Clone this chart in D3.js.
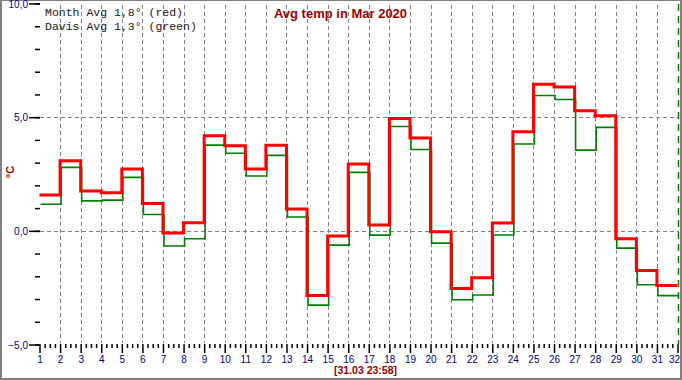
<!DOCTYPE html>
<html><head><meta charset="utf-8">
<script src="https://cdn.jsdelivr.net/npm/d3@7"></script>
<style>
html,body{margin:0;padding:0;background:#fff;}
svg{display:block;}
</style></head>
<body>
<svg id="chart" width="682" height="380"></svg>
<script>
const days = [1,2,3,4,5,6,7,8,9,10,11,12,13,14,15,16,17,18,19,20,21,22,23,24,25,26,27,28,29,30,31];
const monthAvg = [1.58,3.08,1.75,1.68,2.72,1.20,-0.09,0.36,4.18,3.74,2.72,3.77,0.96,-2.85,-0.23,2.94,0.26,4.94,4.08,-0.04,-2.54,-2.06,0.35,4.36,6.45,6.33,5.28,5.06,-0.35,-1.74,-2.40];
const davisAvg = [1.17,2.79,1.32,1.35,2.35,0.72,-0.67,-0.35,3.77,3.41,2.41,3.32,0.61,-3.27,-0.63,2.57,-0.19,4.59,3.58,-0.54,-3.03,-2.82,-0.18,3.82,5.95,5.78,3.55,4.55,-0.76,-2.37,-2.85];
const xTickLabels = [1,2,3,4,5,6,7,8,9,10,11,12,13,14,15,16,17,18,19,20,21,22,23,24,25,26,27,28,29,30,31,32];
const yMajorTicks = [-5,0,5,10];
const yGridTicks = [0,5];
const title = "Avg temp in Mar 2020";
const legendLines = ["Month Avg 1,8° (red)", "Davis Avg 1,3° (green)"];
const yLabel = "°C";
const footer = "[31.03 23:58]";

const svg = d3.select("#chart");
const W = 682, H = 380;
const x = d3.scaleLinear().domain([1,32]).range([39.5,677.5]);
const y = d3.scaleLinear().domain([-5,10]).range([344.5,3.5]);
const loc = d3.formatLocale({decimal:",", thousands:".", grouping:[3], currency:["",""]});
const fmt = loc.format(".1f");

// frame
svg.append("rect").attr("x",0.5).attr("y",0.5).attr("width",W-1).attr("height",H-1)
  .attr("fill","#fff").attr("stroke","#808080").attr("stroke-width",1);
svg.append("line").attr("x1",1).attr("x2",1).attr("y1",0).attr("y2",H).attr("stroke","#808080").attr("stroke-width",2);
svg.append("line").attr("x1",W-1).attr("x2",W-1).attr("y1",0).attr("y2",H).attr("stroke","#808080").attr("stroke-width",2);
svg.append("line").attr("x1",0).attr("x2",W).attr("y1",H-1).attr("y2",H-1).attr("stroke","#808080").attr("stroke-width",2);

// vertical grid
const vg = svg.append("g");
vg.selectAll("line").data(xTickLabels.filter(d=>d>1 && d<32)).join("line")
  .attr("x1",d=>Math.round(x(d))+0.5).attr("x2",d=>Math.round(x(d))+0.5)
  .attr("y1",5).attr("y2",343)
  .attr("stroke","#808080").attr("stroke-width",1).attr("stroke-dasharray","4,3");
// horizontal grid
svg.append("g").selectAll("line").data(yGridTicks).join("line")
  .attr("x1",40).attr("x2",679)
  .attr("y1",d=>Math.round(y(d))+0.5).attr("y2",d=>Math.round(y(d))+0.5)
  .attr("stroke","#808080").attr("stroke-width",1).attr("stroke-dasharray","4,3");
// current-time marker
svg.append("line").attr("x1",Math.round(x(32))+0.5).attr("x2",Math.round(x(32))+0.5)
  .attr("y1",4).attr("y2",344).attr("stroke","#008000").attr("stroke-width",1.5)
  .attr("stroke-dasharray","7,5");

// y axis minor & major
const yMinor = d3.axisLeft(y).tickValues(d3.range(-5,11,1)).tickSize(5).tickFormat("");
const yMajor = d3.axisLeft(y).tickValues(yMajorTicks).tickSize(11).tickPadding(1).tickFormat(fmt);
const gyMin = svg.append("g").attr("transform","translate(40,0)").call(yMinor);
const gyMaj = svg.append("g").attr("transform","translate(40,0)").call(yMajor);
[gyMin,gyMaj].forEach(g=>{g.select(".domain").remove(); g.selectAll("line").attr("stroke","#000").attr("stroke-width",1.5);});
gyMaj.selectAll("text").attr("fill","#000080").style("font-family","Liberation Sans, Arial, sans-serif").style("font-size","10px").attr("dy","0.35em");

// x axis minor & major
const xMinor = d3.axisBottom(x).tickValues(d3.range(1,32.01,0.25).filter(v=>v%1!==0)).tickSize(4).tickFormat("");
const xMajor = d3.axisBottom(x).tickValues(xTickLabels).tickSize(9).tickPadding(3).tickFormat(d=>d);
const gxMin = svg.append("g").attr("transform","translate(0,344)").call(xMinor);
const gxMaj = svg.append("g").attr("transform","translate(0,344)").call(xMajor);
[gxMin,gxMaj].forEach(g=>{g.select(".domain").remove(); g.selectAll("line").attr("stroke","#000").attr("stroke-width",1.5);});
gxMaj.selectAll("text").attr("fill","#000080").style("font-family","Liberation Sans, Arial, sans-serif").style("font-size","10px");
gxMaj.selectAll("text").filter(d=>d===32).attr("text-anchor","end").attr("x",2);

// step lines
const line = d3.line().x(d=>x(d[0])).y(d=>y(d[1])).curve(d3.curveStepAfter);
const mk = arr => days.map((d,i)=>[d,arr[i]]).concat([[32, arr[arr.length-1]]]);
svg.append("path").attr("d",line(mk(davisAvg))).attr("fill","none")
  .attr("stroke","#008000").attr("stroke-width",1.6).attr("transform","translate(1,0)");
svg.append("path").attr("d",line(mk(monthAvg))).attr("fill","none")
  .attr("stroke","#ff0000").attr("stroke-width",3);

// texts
svg.append("text").attr("x",340.5).attr("y",17.5).attr("text-anchor","middle")
  .attr("fill","#990000").style("font-family","Liberation Sans, Arial, sans-serif")
  .style("font-size","13px").style("font-weight","bold").text(title);
svg.selectAll(".leg").data(legendLines).join("text").attr("class","leg")
  .attr("x",45).attr("y",(d,i)=>16+i*13.5).attr("fill","#1a1a1a")
  .style("font-family","Liberation Mono, Courier New, monospace").style("font-size","11.5px")
  .attr("xml:space","preserve").text(d=>d);
svg.append("text").attr("transform","translate(14,172) rotate(-90)").attr("text-anchor","middle")
  .attr("fill","#990000").style("font-family","Liberation Sans, Arial, sans-serif")
  .style("font-size","11px").style("font-weight","bold").text(yLabel);
svg.append("text").attr("x",365.5).attr("y",374).attr("text-anchor","middle")
  .attr("fill","#990000").style("font-family","Liberation Sans, Arial, sans-serif")
  .style("font-size","10.5px").style("font-weight","bold").text(footer);
</script>
</body></html>
